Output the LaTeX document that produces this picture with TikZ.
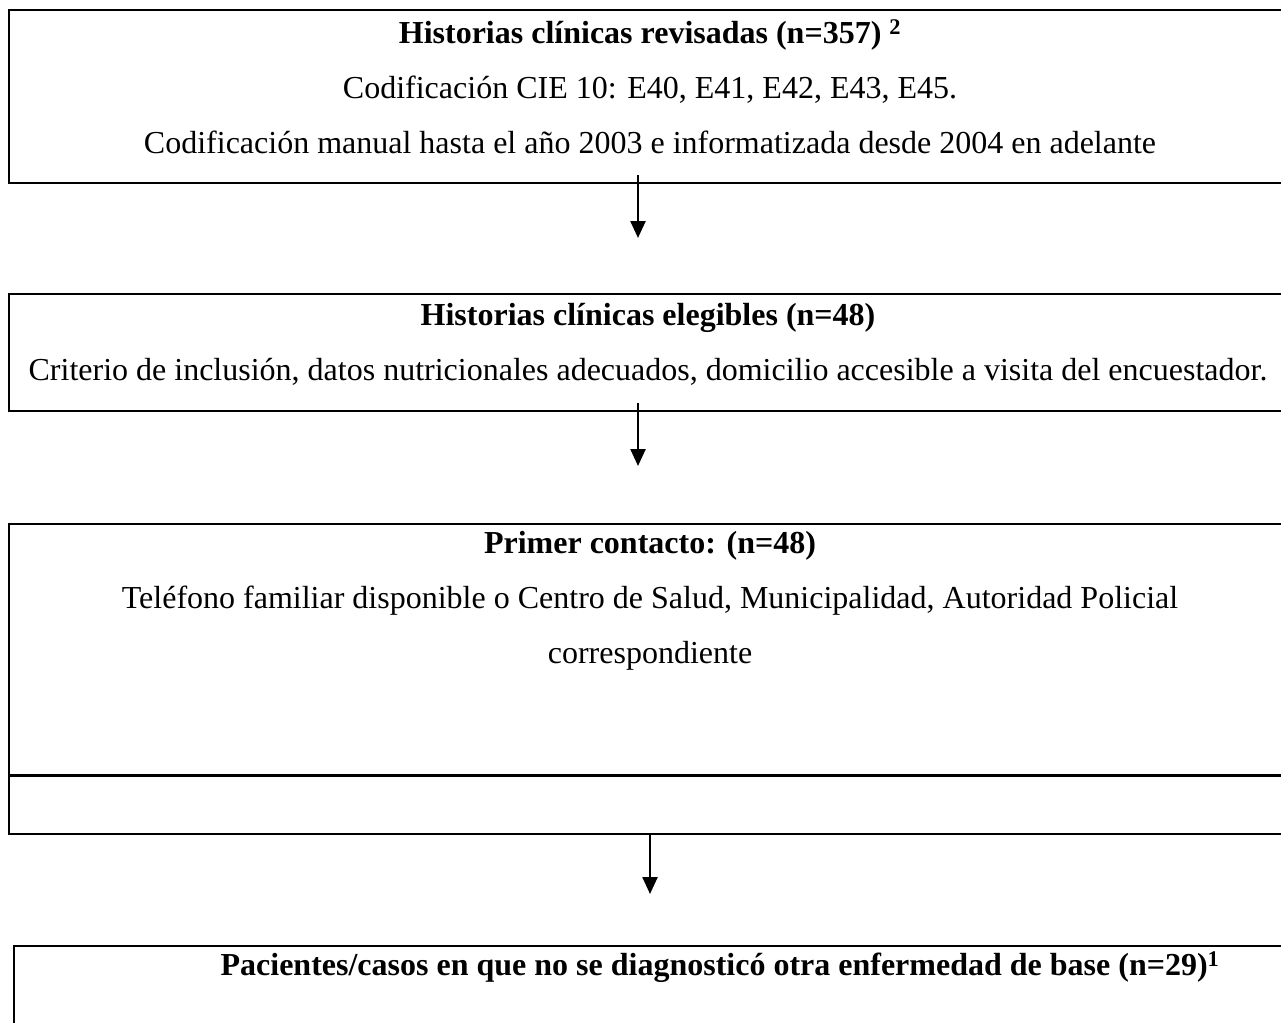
\documentclass[tikz,border=0pt]{standalone}
\usepackage{fontspec}
\setmainfont{Liberation Serif}
\usetikzlibrary{arrows.meta}

\begin{document}
\begin{tikzpicture}[x=1pt,y=-1pt,
  caja/.style={draw,line width=1.6pt,anchor=north west,minimum width=1300pt,inner sep=0pt},
  texto/.style={align=center,font=\fontsize{32}{55}\selectfont,inner sep=0pt},
  flecha/.style={line width=2.4pt,-{Triangle[width=15pt,length=17pt]}}]
\useasboundingbox (0,0) rectangle (1281,1022);
\clip (0,0) rectangle (1281,1022);
\fill[white] (0,0) rectangle (1281,1022);

\node[caja,minimum height=173pt] (c1) at (8,9) {};
\node[caja,minimum height=117pt] (c2) at (8,293) {};
\node[caja,minimum height=310pt] (c3) at (8,523) {};
\node[caja,minimum height=120pt] (c4) at (13,945) {};
\coordinate (d1) at (8,775);
\draw[line width=3pt] (d1) -- (d1 -| c3.east);

\node[texto] (t1) at (650,87) {\textbf{Historias clínicas revisadas (n=357) \textsuperscript{2}}\\
  Codificación CIE 10: E40, E41, E42, E43, E45.\\
  Codificación manual hasta el año 2003 e informatizada desde 2004 en adelante};
\node[texto] (t2) at (648,344) {\textbf{Historias clínicas elegibles (n=48)}\\
  Criterio de inclusión, datos nutricionales adecuados, domicilio accesible a visita del encuestador.};
\node[texto] (t3) at (650,601) {\textbf{Primer contacto: (n=48)}\\
  Teléfono familiar disponible o Centro de Salud, Municipalidad, Autoridad Policial\\
  correspondiente};
\node[texto] (t4) at (720,967) {\textbf{Pacientes/casos en que no se diagnosticó otra enfermedad de base (n=29)\textsuperscript{1}}};

\coordinate (i1) at (638,175);
\coordinate (f1) at (638,238);
\coordinate (i2) at (638,403);
\coordinate (f2) at (638,466);
\coordinate (i3) at (650,833);
\coordinate (f3) at (650,894);
\draw[flecha] (i1) -- (f1);
\draw[flecha] (i2) -- (f2);
\draw[flecha] (i3) -- (f3);

\end{tikzpicture}
\end{document}
